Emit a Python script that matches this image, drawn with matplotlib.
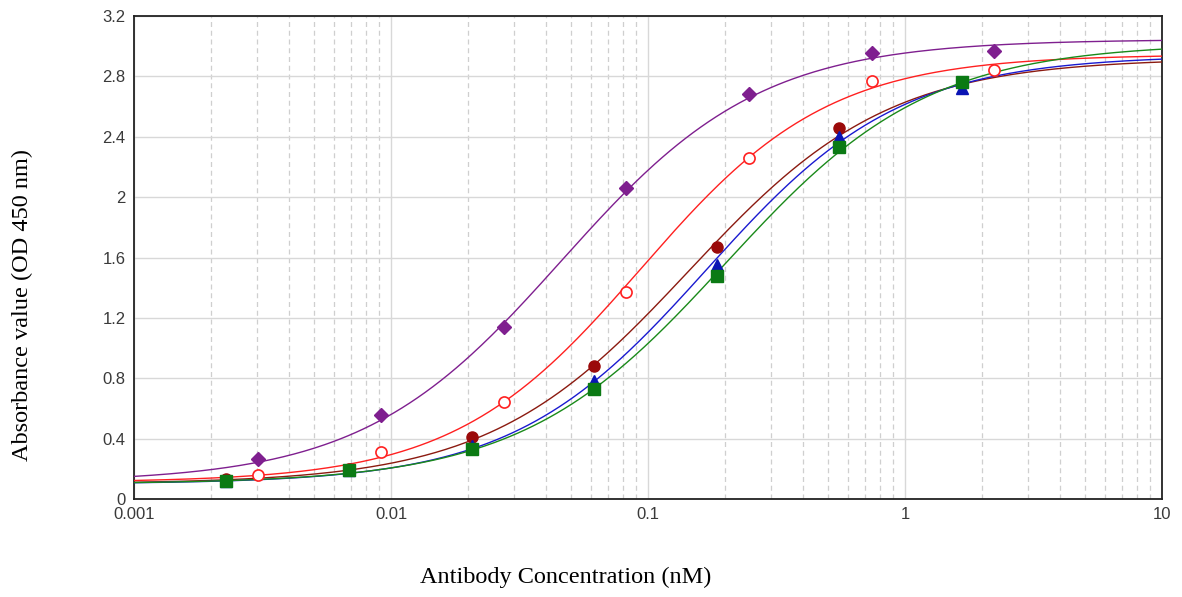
import numpy as np
import matplotlib
matplotlib.use("Agg")
import matplotlib.pyplot as plt
from matplotlib.ticker import LogLocator, FixedLocator, NullFormatter

# Antibody concentrations (nM), 3-fold serial dilutions
conc_a = [0.00305, 0.00914, 0.0274, 0.0823, 0.247, 0.741, 2.22]
conc_b = [0.00229, 0.00686, 0.0206, 0.0617, 0.185, 0.556, 1.667]

# OD450 readings for each antibody
od_purple = [0.265, 0.555, 1.14, 2.06, 2.68, 2.955, 2.97]
od_red_open = [0.16, 0.31, 0.64, 1.37, 2.26, 2.77, 2.84]
od_darkred = [0.13, 0.20, 0.41, 0.88, 1.67, 2.46, 2.76]
od_blue = [0.12, 0.19, 0.35, 0.78, 1.55, 2.40, 2.72]
od_green = [0.12, 0.19, 0.33, 0.73, 1.48, 2.33, 2.76]

# 4PL fit parameters per antibody: bottom, top, EC50 (nM), Hill slope
fit_purple = [0.11, 3.045, 0.046, 1.12]
fit_red_open = [0.11, 2.945, 0.094, 1.19]
fit_darkred = [0.10, 2.92, 0.144, 1.115]
fit_blue = [0.10, 2.94, 0.169, 1.15]
fit_green = [0.10, 3.02, 0.200, 1.096]

series = [
    (conc_a, od_purple, fit_purple, "#7f1f8f",
     dict(marker="D", ms=7, mfc="#7f1f8f", mec="#7f1f8f")),
    (conc_a, od_red_open, fit_red_open, "#ff2020",
     dict(marker="o", ms=8, mfc="white", mec="#ff2020", mew=1.2)),
    (conc_b, od_darkred, fit_darkred, "#8b1a10",
     dict(marker="o", ms=8, mfc="#9b0a0a", mec="#9b0a0a")),
    (conc_b, od_blue, fit_blue, "#1a1ad0",
     dict(marker="^", ms=8, mfc="#0a14b4", mec="#0a14b4")),
    (conc_b, od_green, fit_green, "#1a8a1a",
     dict(marker="s", ms=8, mfc="#0b7a14", mec="#0b7a14")),
]


def four_pl(p, x):
    bottom, top, ec50, hill = p
    return top + (bottom - top) / (1.0 + (x / ec50) ** hill)


fig = plt.figure(figsize=(11.82, 5.97), dpi=100)
ax = fig.add_axes([134 / 1182, 1 - 499 / 597, 1028 / 1182, 483 / 597])

xs = np.logspace(-3, 1, 400)
for x, y, p, col, mk in series:
    ax.plot(xs, four_pl(p, xs), color=col, lw=1.0, zorder=3)
    ax.plot(x, y, ls="none", zorder=4, **mk)

ax.set_xscale("log")
ax.set_xlim(0.001, 10)
ax.set_ylim(0, 3.2)
ax.xaxis.set_major_locator(FixedLocator([0.001, 0.01, 0.1, 1, 10]))
ax.set_xticklabels(["0.001", "0.01", "0.1", "1", "10"])
ax.xaxis.set_minor_locator(LogLocator(base=10, subs=np.arange(2, 10)))
ax.xaxis.set_minor_formatter(NullFormatter())
ax.set_yticks(np.arange(0, 3.21, 0.4))
ax.set_yticklabels(["0", "0.4", "0.8", "1.2", "1.6", "2", "2.4", "2.8", "3.2"])

ax.grid(which="major", color="#d8d8d8", lw=1.0, ls="-", zorder=0)
ax.grid(which="minor", axis="x", color="#cfcfcf", lw=0.9, ls=(0, (4, 3)), zorder=0)
ax.set_axisbelow(True)

ax.tick_params(which="both", length=0, labelsize=12, labelcolor="#3a3a3a")
ax.tick_params(axis="y", pad=6)
ax.tick_params(axis="x", pad=6)
for lab in ax.get_xticklabels() + ax.get_yticklabels():
    lab.set_family("Liberation Sans")
for s in ax.spines.values():
    s.set_color("#222222")
    s.set_linewidth(1.3)

fig.text(22 / 1182, 1 - 305 / 597, "Absorbance value (OD 450 nm)", rotation=90,
         ha="center", va="center", fontsize=17.5, family="Liberation Serif")
fig.text(566 / 1182, 1 - 577 / 597, "Antibody Concentration (nM)",
         ha="center", va="center", fontsize=17.5, family="Liberation Serif")

fig.savefig("out.png", dpi=100)
